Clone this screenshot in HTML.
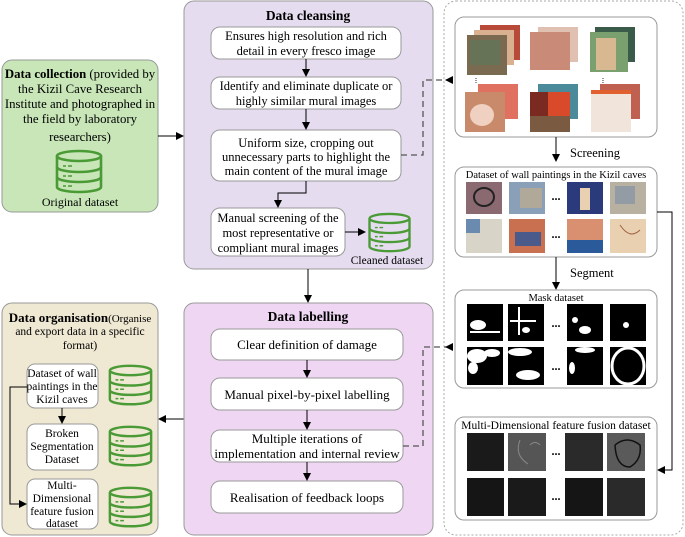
<!DOCTYPE html>
<html><head><meta charset="utf-8"><style>
html,body{margin:0;padding:0;background:#fff}
svg{display:block;font-family:"Liberation Serif",serif}
</style></head><body>
<svg width="685" height="537" viewBox="0 0 685 537" xmlns="http://www.w3.org/2000/svg">
<defs>
<marker id="ar" markerWidth="8" markerHeight="8" refX="7" refY="4" orient="auto" markerUnits="userSpaceOnUse"><path d="M0,0 L8,4 L0,8 z" fill="#000"/></marker>
<symbol id="db" viewBox="0 0 48 44" overflow="visible">
<g fill="none" stroke="#4a9a36" stroke-width="2.6">
<ellipse cx="24" cy="6" rx="22" ry="5"/>
<path d="M2,6 V37 A22,5 0 0 0 46,37 V6"/>
<path d="M2,17 A22,5 0 0 0 46,17"/>
<path d="M2,27 A22,5 0 0 0 46,27"/>
<path d="M8,16 h3 M13,16 h4 M8,26 h3 M13,26 h4 M8,36 h3 M13,36 h4" stroke-width="1.6"/>
</g>
</symbol>
</defs>

<!-- Data collection -->
<rect x="2" y="60" width="156" height="152" rx="10" fill="#c8e6b8" stroke="#999"/>
<g font-size="12.8" text-anchor="middle">
<text x="80" y="78"><tspan font-weight="bold">Data collection</tspan> (provided by</text>
<text x="80" y="93">the Kizil Cave Research</text>
<text x="80" y="108">Institute and photographed in</text>
<text x="80" y="123">the field by laboratory</text>
<text x="80" y="141">researchers)</text>
</g>
<use href="#db" x="55" y="150" width="48" height="44"/>
<text x="80" y="206" font-size="12" text-anchor="middle">Original dataset</text>

<!-- Data cleansing -->
<rect x="184" y="1" width="249" height="268" rx="10" fill="#e5dcef" stroke="#999"/>
<text x="308" y="20" font-size="13.5" font-weight="bold" text-anchor="middle">Data cleansing</text>
<g fill="#fff" stroke="#999">
<rect x="211" y="27" width="190" height="32" rx="9"/>
<rect x="211" y="77" width="190" height="32" rx="9"/>
<rect x="211" y="130" width="190" height="51" rx="9"/>
<rect x="211" y="208" width="134" height="48" rx="9"/>
</g>
<g font-size="12.5" text-anchor="middle">
<text x="306" y="40">Ensures high resolution and rich</text>
<text x="306" y="55">detail in every fresco image</text>
<text x="306" y="90">Identify and eliminate duplicate or</text>
<text x="306" y="105">highly similar mural images</text>
<text x="306" y="147">Uniform size, cropping out</text>
<text x="306" y="161">unnecessary parts to highlight the</text>
<text x="306" y="175">main content of the mural image</text>
<text x="278" y="222">Manual screening of the</text>
<text x="278" y="237">most representative or</text>
<text x="278" y="252">compliant mural images</text>
</g>
<use href="#db" x="367" y="213" width="45" height="40"/>
<text x="387" y="264" font-size="11.5" text-anchor="middle">Cleaned dataset</text>
<g stroke="#000" stroke-width="1" fill="none" marker-end="url(#ar)">
<line x1="306" y1="59" x2="306" y2="76"/>
<line x1="306" y1="109" x2="306" y2="129"/>
<polyline points="306,181 306,193 278,193 278,207"/>
<line x1="345" y1="232" x2="365" y2="232"/>
<line x1="158" y1="136" x2="183" y2="136"/>
<line x1="308" y1="269" x2="308" y2="302"/>
<line x1="184" y1="419" x2="159" y2="419"/>
</g>

<!-- Data labelling -->
<rect x="184" y="303" width="249" height="232" rx="10" fill="#efd6f3" stroke="#999"/>
<text x="308" y="321" font-size="13.5" font-weight="bold" text-anchor="middle">Data labelling</text>
<g fill="#fff" stroke="#999">
<rect x="211" y="329" width="192" height="31" rx="9"/>
<rect x="211" y="378" width="192" height="32" rx="9"/>
<rect x="211" y="430" width="192" height="32" rx="9"/>
<rect x="211" y="481" width="192" height="32" rx="9"/>
</g>
<g font-size="13" text-anchor="middle">
<text x="307" y="349">Clear definition of damage</text>
<text x="307" y="399">Manual pixel-by-pixel labelling</text>
<text x="307" y="443">Multiple iterations of</text>
<text x="307" y="458">implementation and internal review</text>
<text x="307" y="502">Realisation of feedback loops</text>
</g>
<g stroke="#000" fill="none" marker-end="url(#ar)">
<line x1="307" y1="360" x2="307" y2="377"/>
<line x1="307" y1="410" x2="307" y2="429"/>
<line x1="307" y1="462" x2="307" y2="480"/>
</g>

<!-- Data organisation -->
<rect x="2" y="303" width="156" height="232" rx="10" fill="#efe8d2" stroke="#999"/>
<text x="80" y="322" text-anchor="middle"><tspan font-size="13" font-weight="bold">Data organisation</tspan><tspan font-size="11">(Organise</tspan></text>
<text x="80" y="335" font-size="11.5" text-anchor="middle">and export data in a specific</text>
<text x="80" y="349" font-size="11.5" text-anchor="middle">format)</text>
<g fill="#fff" stroke="#999">
<rect x="27" y="364" width="71" height="44" rx="8"/>
<rect x="27" y="424" width="71" height="46" rx="8"/>
<rect x="27" y="479" width="71" height="50" rx="8"/>
</g>
<g font-size="11.5" text-anchor="middle">
<text x="62" y="377">Dataset of wall</text>
<text x="62" y="390">paintings in the</text>
<text x="62" y="403">Kizil caves</text>
<text x="62" y="437">Broken</text>
<text x="62" y="450">Segmentation</text>
<text x="62" y="463">Dataset</text>
<text x="62" y="489">Multi-</text>
<text x="62" y="502">Dimensional</text>
<text x="62" y="515">feature fusion</text>
<text x="62" y="527">dataset</text>
</g>
<use href="#db" x="108" y="364" width="45" height="43"/>
<use href="#db" x="108" y="425" width="45" height="43"/>
<use href="#db" x="108" y="486" width="45" height="43"/>
<g stroke="#000" fill="none" marker-end="url(#ar)">
<line x1="62" y1="408" x2="62" y2="423"/>
<polyline points="27,387 10,387 10,504 26,504"/>
</g>

<!-- Right dashed panel -->
<rect x="444" y="1" width="239" height="534" rx="12" fill="none" stroke="#aaa" stroke-dasharray="2,2"/>
<g stroke="#555" stroke-width="1.3" fill="none" stroke-dasharray="6,4">
<polyline points="401,155 423,155 423,80 448,80"/>
<polyline points="403,446 423,446 423,347 448,347"/>
</g>
<path d="M445,80 l8,-4 v8z M445,347 l8,-4 v8z" fill="#000"/>

<!-- box1 photos -->
<rect x="455" y="17" width="202" height="120" rx="9" fill="#fff" stroke="#999"/>
<g>
<rect x="480" y="25" width="40" height="35" fill="#b84a3a"/><rect x="474" y="30" width="40" height="35" fill="#d9b090"/>
<rect x="467" y="35" width="40" height="40" fill="#7a6a50"/><rect x="470" y="40" width="30" height="25" fill="#5a7a5a" opacity=".6"/>
<rect x="538" y="27" width="40" height="35" fill="#e0c0b0"/><rect x="530" y="32" width="40" height="38" fill="#c98a78"/>
<rect x="595" y="27" width="40" height="35" fill="#3a5a4a"/><rect x="590" y="32" width="38" height="40" fill="#7aa070"/>
<rect x="596" y="38" width="20" height="32" fill="#d8b890"/>
<rect x="478" y="84" width="40" height="35" fill="#e07060"/><rect x="465" y="92" width="40" height="40" fill="#c88a6a"/>
<ellipse cx="482" cy="115" rx="12" ry="11" fill="#f0d0c0"/>
<rect x="538" y="84" width="40" height="35" fill="#4a8a9a"/><rect x="530" y="92" width="40" height="40" fill="#7a2a20"/>
<rect x="548" y="92" width="22" height="24" fill="#d84a2a"/><rect x="530" y="116" width="40" height="16" fill="#7a5a40"/>
<rect x="600" y="84" width="40" height="35" fill="#c06050"/><rect x="591" y="92" width="40" height="40" fill="#f1e4da"/>
<rect x="591" y="90" width="40" height="4" fill="#e06030"/>
<path d="M476,78 v5 M603,78 v5" stroke="#333" stroke-dasharray="1,1"/>
</g>
<line x1="556" y1="137" x2="556" y2="161" stroke="#000" marker-end="url(#ar)"/>
<text x="570" y="157" font-size="12.5">Screening</text>

<!-- box2 dataset -->
<rect x="455" y="167" width="202" height="90" rx="9" fill="#fff" stroke="#999"/>
<text x="556" y="178" font-size="10.5" text-anchor="middle">Dataset of wall paintings in the Kizil caves</text>
<g>
<rect x="466" y="182" width="36" height="32" fill="#8a6a70"/><ellipse cx="484" cy="197" rx="10" ry="9" fill="none" stroke="#222" stroke-width="2"/>
<rect x="509" y="182" width="36" height="32" fill="#8aa0b8"/><rect x="520" y="188" width="22" height="20" fill="#b0a898"/>
<rect x="567" y="182" width="36" height="32" fill="#2a3a7a"/><rect x="580" y="188" width="10" height="22" fill="#e8d0b0"/>
<rect x="610" y="182" width="36" height="32" fill="#b8b0a0"/><rect x="615" y="186" width="20" height="18" fill="#7a90a8" opacity=".6"/>
<rect x="466" y="219" width="36" height="34" fill="#d8d4c8"/><rect x="466" y="219" width="14" height="14" fill="#6a8ab0"/>
<rect x="509" y="219" width="36" height="34" fill="#c87050"/><rect x="515" y="232" width="26" height="14" fill="#4a5a8a"/>
<rect x="567" y="219" width="36" height="34" fill="#d89070"/><rect x="567" y="240" width="36" height="13" fill="#2a5a9a"/>
<rect x="610" y="219" width="36" height="34" fill="#e8d0b0"/><path d="M620,225 q10,15 20,5" stroke="#a06040" fill="none"/>
</g>
<text x="556" y="200" font-size="12" text-anchor="middle" font-weight="bold">...</text>
<text x="556" y="238" font-size="12" text-anchor="middle" font-weight="bold">...</text>
<line x1="556" y1="257" x2="556" y2="289" stroke="#000" marker-end="url(#ar)"/>
<text x="570" y="277" font-size="12.5">Segment</text>
<polyline points="657,212 672,212 672,470 658,470" fill="none" stroke="#000" marker-end="url(#ar)"/>

<!-- box3 mask -->
<rect x="455" y="290" width="202" height="98" rx="9" fill="#fff" stroke="#999"/>
<text x="556" y="301" font-size="10.5" text-anchor="middle">Mask dataset</text>
<g fill="#000">
<rect x="467" y="304" width="36" height="37"/><rect x="508" y="304" width="36" height="37"/>
<rect x="567" y="304" width="36" height="37"/><rect x="610" y="304" width="36" height="37"/>
<rect x="467" y="347" width="36" height="38"/><rect x="508" y="347" width="36" height="38"/>
<rect x="567" y="347" width="36" height="38"/><rect x="610" y="347" width="36" height="38"/>
</g>
<g fill="#fff">
<ellipse cx="478" cy="325" rx="8" ry="5"/><rect x="470" y="331" width="30" height="2"/>
<rect x="518" y="307" width="2" height="28"/><rect x="510" y="320" width="26" height="2"/><ellipse cx="526" cy="330" rx="4" ry="3"/>
<ellipse cx="585" cy="330" rx="6" ry="4"/><ellipse cx="575" cy="320" rx="3" ry="3"/>
<ellipse cx="626" cy="325" rx="3" ry="3"/>
<ellipse cx="477" cy="356" rx="10" ry="7"/><ellipse cx="492" cy="353" rx="8" ry="4"/><ellipse cx="473" cy="368" rx="5" ry="6"/>
<ellipse cx="520" cy="352" rx="12" ry="4"/><ellipse cx="528" cy="375" rx="12" ry="5"/>
<ellipse cx="585" cy="350" rx="10" ry="3"/><ellipse cx="572" cy="368" rx="3" ry="6"/>
<ellipse cx="628" cy="366" rx="16" ry="18" fill="none" stroke="#fff" stroke-width="3"/>
</g>
<text x="556" y="327" font-size="12" text-anchor="middle" font-weight="bold">...</text>
<text x="556" y="370" font-size="12" text-anchor="middle" font-weight="bold">...</text>

<!-- box4 fusion -->
<rect x="455" y="417" width="202" height="103" rx="9" fill="#fff" stroke="#999"/>
<text x="556" y="429" font-size="11.5" text-anchor="middle">Multi-Dimensional feature fusion dataset</text>
<g>
<rect x="467" y="433" width="37" height="38" fill="#1a1a1a"/><rect x="508" y="433" width="38" height="38" fill="#555"/>
<rect x="565" y="433" width="38" height="38" fill="#2a2a2a"/><rect x="607" y="433" width="38" height="38" fill="#5a5a5a"/>
<rect x="467" y="478" width="37" height="38" fill="#151515"/><rect x="508" y="478" width="38" height="38" fill="#1a1a1a"/>
<rect x="565" y="478" width="38" height="38" fill="#151515"/><rect x="607" y="478" width="38" height="38" fill="#2a2a2a"/>
<path d="M615,445 q12,-10 25,0 q2,15 -10,22 q-14,0 -15,-22" fill="none" stroke="#111" stroke-width="1.5"/>
<path d="M520,440 q-6,15 8,24 M530,445 q5,-5 10,0" fill="none" stroke="#888"/>
</g>
<text x="556" y="455" font-size="12" text-anchor="middle" font-weight="bold">...</text>
<text x="556" y="500" font-size="12" text-anchor="middle" font-weight="bold">...</text>
</svg>
</body></html>
